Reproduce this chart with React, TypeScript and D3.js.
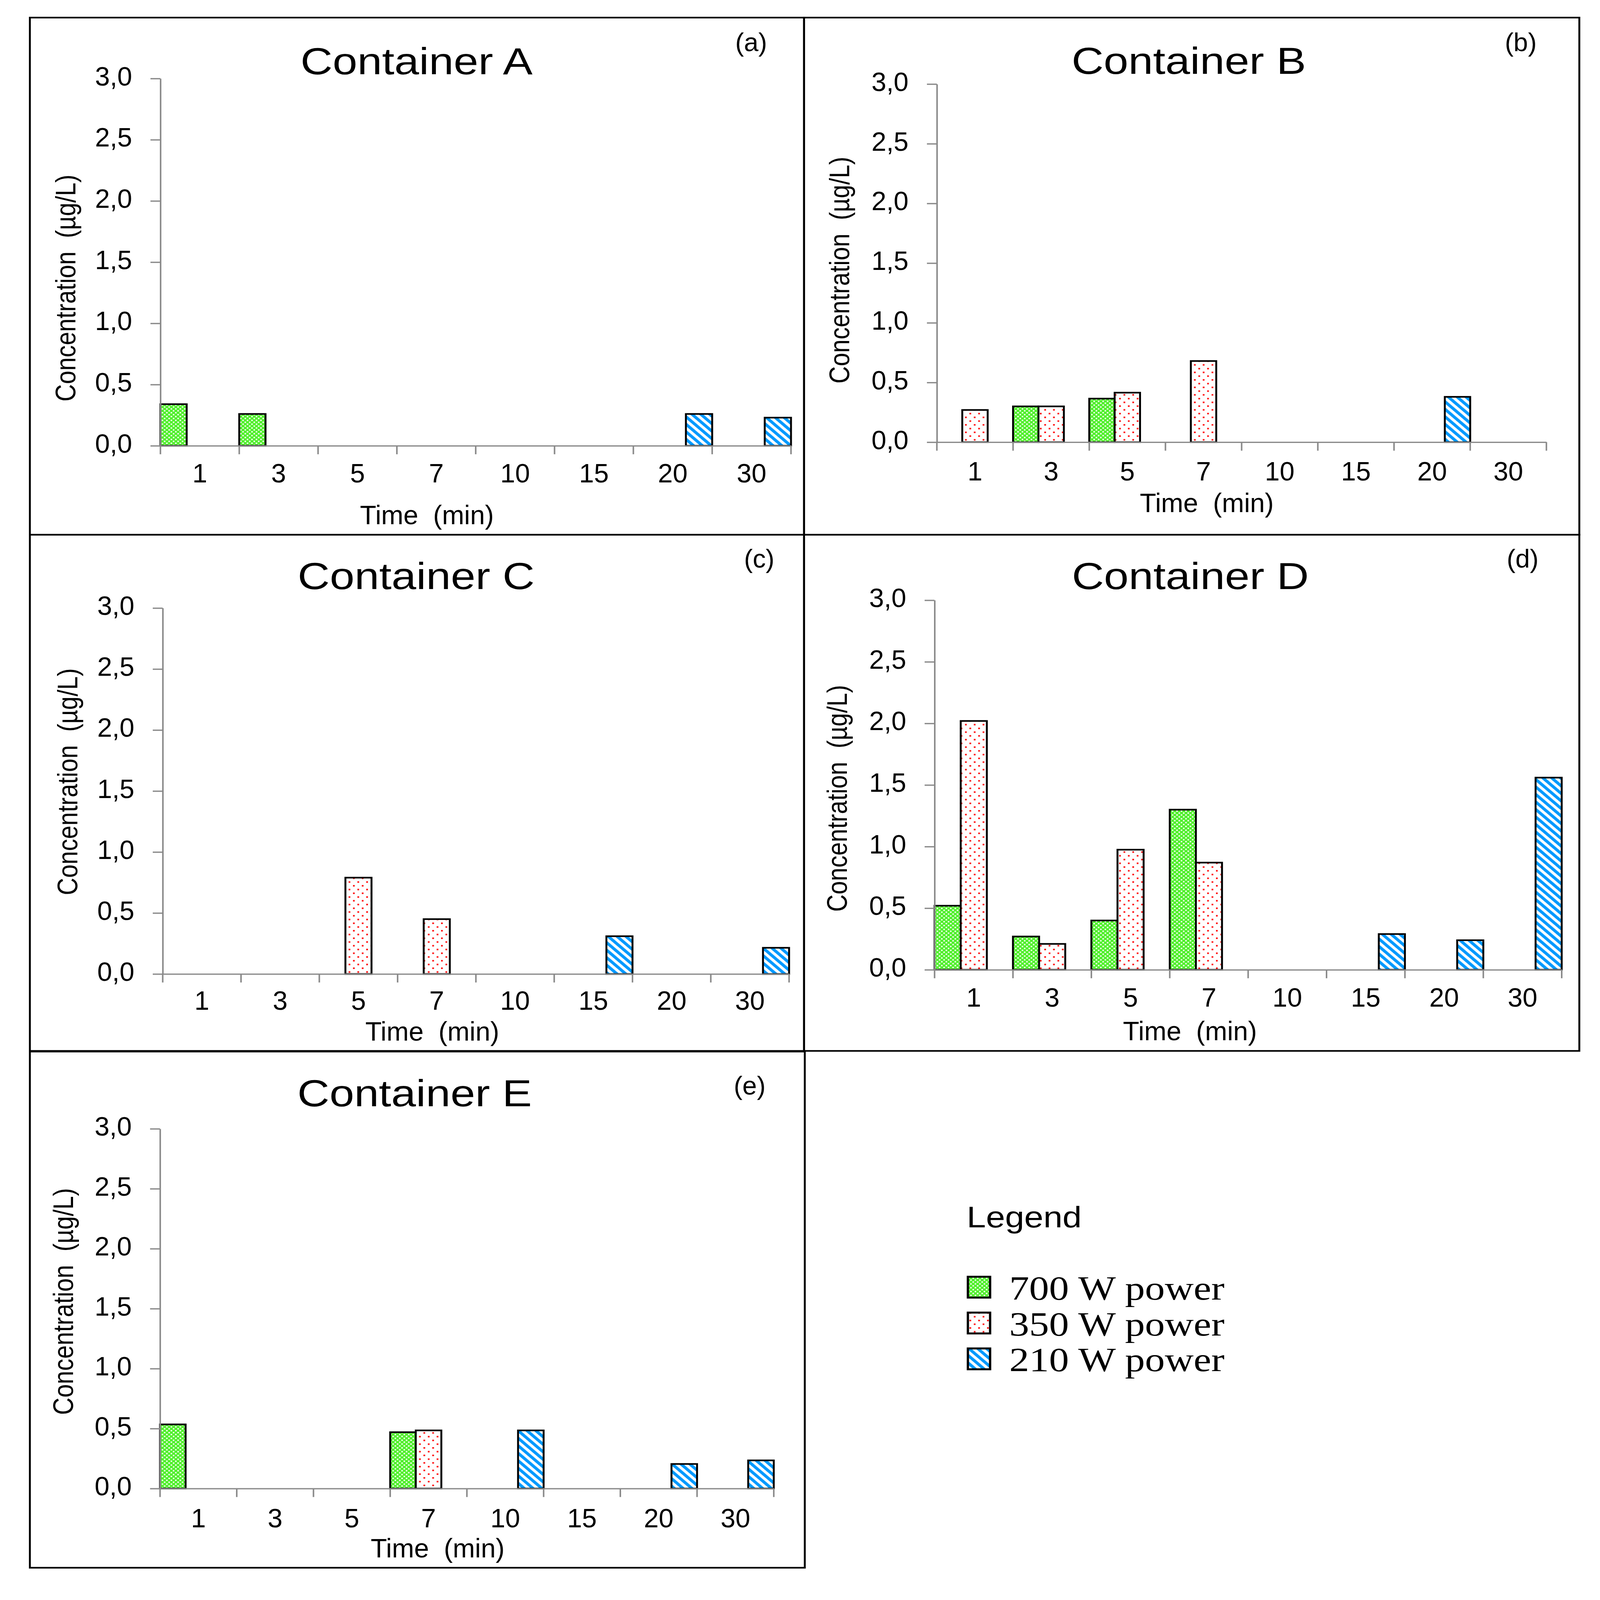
import { useEffect, useRef } from 'react';
import * as d3 from 'd3';

// Categories (time in minutes) and series
const categories = ['1', '3', '5', '7', '10', '15', '20', '30'];
const seriesNames = ['700 W power', '350 W power', '210 W power'];
const yTicks = [0, 0.5, 1, 1.5, 2, 2.5, 3];

// Concentration (µg/L) per container, 0 = no bar
const containerA700 = [0.34, 0.26, 0, 0, 0, 0, 0, 0];
const containerA350 = [0, 0, 0, 0, 0, 0, 0, 0];
const containerA210 = [0, 0, 0, 0, 0, 0, 0.26, 0.23];

const containerB700 = [0, 0.30, 0.365, 0, 0, 0, 0, 0];
const containerB350 = [0.27, 0.30, 0.415, 0.68, 0, 0, 0, 0];
const containerB210 = [0, 0, 0, 0, 0, 0, 0.38, 0];

const containerC700 = [0, 0, 0, 0, 0, 0, 0, 0];
const containerC350 = [0, 0, 0.79, 0.45, 0, 0, 0, 0];
const containerC210 = [0, 0, 0, 0, 0, 0.31, 0, 0.215];

const containerD700 = [0.52, 0.27, 0.40, 1.30, 0, 0, 0, 0];
const containerD350 = [2.02, 0.21, 0.975, 0.87, 0, 0, 0, 0];
const containerD210 = [0, 0, 0, 0, 0, 0.29, 0.24, 1.56];

const containerE700 = [0.535, 0, 0, 0.47, 0, 0, 0, 0];
const containerE350 = [0, 0, 0, 0.485, 0, 0, 0, 0];
const containerE210 = [0, 0, 0, 0, 0.485, 0, 0.205, 0.235];

const W = 4179;
const H = 4910;
const SANS = "'Liberation Sans', Arial, sans-serif";
const SERIF = "'Liberation Serif', 'Times New Roman', serif";
const AXIS_GREY = '#8a8a8a';
// Arial Narrow look-alike: regular sans squeezed horizontally
const NARROW_SCALE = 0.85;

interface PanelLayout {
  bx: number; by: number; bw: number; bh: number;
  x0: number; x1: number; yBase: number; yTop: number;
  titleX: number; titleY: number; tagX: number; tagY: number;
  yLabX: number; yLabY: number; xLabY: number; timeX: number; timeY: number;
}

interface Panel {
  title: string;
  tag: string;
  series: number[][];
  layout: PanelLayout;
}

const panels: Panel[] = [
  {
    title: 'Container A', tag: '(a)', series: [containerA700, containerA350, containerA210],
    layout: { bx: 78, by: 54, bw: 2022, bh: 1587, x0: 419, x1: 2066, yBase: 1368, yTop: 241,
      titleX: 1088, titleY: 228, tagX: 1962, tagY: 157, yLabX: 197, yLabY: 884, xLabY: 1480, timeX: 1115, timeY: 1609 },
  },
  {
    title: 'Container B', tag: '(b)', series: [containerB700, containerB350, containerB210],
    layout: { bx: 2100, by: 54, bw: 2025, bh: 1587, x0: 2447, x1: 4039, yBase: 1357, yTop: 258,
      titleX: 3105, titleY: 226, tagX: 3972, tagY: 157, yLabX: 2218, yLabY: 829, xLabY: 1474, timeX: 3152, timeY: 1572 },
  },
  {
    title: 'Container C', tag: '(c)', series: [containerC700, containerC350, containerC210],
    layout: { bx: 78, by: 1641, bw: 2022, bh: 1584, x0: 425, x1: 2061, yBase: 2989, yTop: 1866,
      titleX: 1087, titleY: 1808, tagX: 1983, tagY: 1742, yLabX: 202, yLabY: 2399, xLabY: 3099, timeX: 1129, timeY: 3194 },
  },
  {
    title: 'Container D', tag: '(d)', series: [containerD700, containerD350, containerD210],
    layout: { bx: 2100, by: 1641, bw: 2025, bh: 1584, x0: 2441, x1: 4079, yBase: 2976, yTop: 1842,
      titleX: 3109, titleY: 1808, tagX: 3977, tagY: 1742, yLabX: 2212, yLabY: 2450, xLabY: 3089, timeX: 3108, timeY: 3192 },
  },
  {
    title: 'Container E', tag: '(e)', series: [containerE700, containerE350, containerE210],
    layout: { bx: 78, by: 3227, bw: 2024, bh: 1584, x0: 418, x1: 2021, yBase: 4568, yTop: 3464,
      titleX: 1083, titleY: 3395, tagX: 1958, tagY: 3359, yLabX: 191, yLabY: 3994, xLabY: 4687, timeX: 1143, timeY: 4779 },
  },
];

const patternIds = ['pat700', 'pat350', 'pat210'];

export default function App() {
  const svgRef = useRef<SVGSVGElement>(null);

  useEffect(() => {
    if (!svgRef.current) return;
    const svg = d3.select(svgRef.current);
    svg.selectAll('*').remove();

    svg.append('rect').attr('width', W).attr('height', H).attr('fill', '#fff');

    // Fill patterns (Excel-like)
    const defs = svg.append('defs');
    const pGreen = defs.append('pattern').attr('id', patternIds[0])
      .attr('patternUnits', 'userSpaceOnUse').attr('width', 11.7).attr('height', 11.7);
    pGreen.append('rect').attr('width', 11.7).attr('height', 11.7).attr('fill', '#52ef2e');
    pGreen.append('rect').attr('x', 1).attr('y', 1).attr('width', 4).attr('height', 4).attr('fill', '#fff');
    pGreen.append('rect').attr('x', 6.85).attr('y', 6.85).attr('width', 4).attr('height', 4).attr('fill', '#fff');

    const pRed = defs.append('pattern').attr('id', patternIds[1])
      .attr('patternUnits', 'userSpaceOnUse').attr('width', 23).attr('height', 23);
    pRed.append('rect').attr('width', 23).attr('height', 23).attr('fill', '#fff');
    pRed.append('rect').attr('x', 2).attr('y', 2).attr('width', 4.5).attr('height', 4.5).attr('fill', '#ff0000');
    pRed.append('rect').attr('x', 13.5).attr('y', 13.5).attr('width', 4.5).attr('height', 4.5).attr('fill', '#ff0000');

    const pBlue = defs.append('pattern').attr('id', patternIds[2])
      .attr('patternUnits', 'userSpaceOnUse').attr('width', 16.3).attr('height', 16.3)
      .attr('patternTransform', 'rotate(-45)');
    pBlue.append('rect').attr('width', 16.3).attr('height', 16.3).attr('fill', '#fff');
    pBlue.append('rect').attr('width', 8.4).attr('height', 16.3).attr('fill', '#0099ff');

    panels.forEach(panel => {
      const L = panel.layout;
      const g = svg.append('g');

      // Panel frame
      g.append('rect')
        .attr('x', L.bx).attr('y', L.by).attr('width', L.bw).attr('height', L.bh)
        .attr('fill', 'none').attr('stroke', '#000').attr('stroke-width', 5);

      const x = d3.scaleBand<string>().domain(categories).range([L.x0, L.x1]).padding(0);
      const xSub = d3.scaleBand<number>().domain([0, 1, 2]).range([0, x.bandwidth()]).padding(0);
      const y = d3.scaleLinear().domain([0, 3]).range([L.yBase, L.yTop]);

      // Bars
      panel.series.forEach((values, s) => {
        g.selectAll(`.bar-${s}`)
          .data(values.map((v, i) => ({ v, c: categories[i] })).filter(d => d.v > 0))
          .enter()
          .append('rect')
          .attr('class', `bar-${s}`)
          .attr('x', d => (x(d.c) || 0) + (xSub(s) || 0))
          .attr('y', d => y(d.v))
          .attr('width', xSub.bandwidth())
          .attr('height', d => y(0) - y(d.v))
          .attr('fill', `url(#${patternIds[s]})`)
          .attr('stroke', '#000')
          .attr('stroke-width', 5);
      });

      // Y axis
      const yAxis = g.append('g')
        .attr('transform', `translate(${L.x0},0)`)
        .call(d3.axisLeft(y).tickValues(yTicks).tickSize(26).tickSizeOuter(0)
          .tickFormat(d => (d as number).toFixed(1).replace('.', ',')));
      yAxis.select('.domain').attr('stroke', AXIS_GREY).attr('stroke-width', 4);
      yAxis.selectAll('.tick line').attr('stroke', AXIS_GREY).attr('stroke-width', 4);
      yAxis.selectAll('.tick text')
        .attr('x', 0)
        .attr('dy', '0.25em')
        .attr('transform', `translate(-74,0) scale(${NARROW_SCALE},1)`)
        .style('font-family', SANS)
        .style('font-size', '82px')
        .attr('fill', '#000');

      // X axis (labels centred, ticks on band boundaries)
      const xAxis = g.append('g')
        .attr('transform', `translate(0,${L.yBase})`)
        .call(d3.axisBottom(x).tickSize(0).tickSizeOuter(0));
      xAxis.select('.domain').attr('stroke', AXIS_GREY).attr('stroke-width', 4);
      xAxis.selectAll('.tick text')
        .attr('y', 0)
        .attr('dy', null)
        .attr('transform', `translate(0,${L.xLabY - L.yBase}) scale(${NARROW_SCALE},1)`)
        .style('font-family', SANS)
        .style('font-size', '82px')
        .attr('fill', '#000');
      xAxis.selectAll('.boundary')
        .data(d3.range(categories.length + 1))
        .enter()
        .append('line')
        .attr('class', 'boundary')
        .attr('x1', i => L.x0 + i * x.step())
        .attr('x2', i => L.x0 + i * x.step())
        .attr('y1', 0)
        .attr('y2', 26)
        .attr('stroke', AXIS_GREY)
        .attr('stroke-width', 4);

      // Titles and labels
      g.append('text')
        .attr('x', L.titleX).attr('y', L.titleY)
        .attr('text-anchor', 'middle')
        .style('font-family', SANS).style('font-size', '116px')
        .text(panel.title);

      g.append('text')
        .attr('transform', `translate(${L.tagX},${L.tagY}) scale(${NARROW_SCALE},1)`)
        .attr('text-anchor', 'middle')
        .style('font-family', SANS).style('font-size', '80px')
        .text(panel.tag);

      g.append('text')
        .attr('transform', `translate(${L.yLabX},${L.yLabY}) rotate(-90)`)
        .attr('text-anchor', 'middle')
        .style('font-family', SANS).style('font-size', '74px')
        .style('white-space', 'pre')
        .text('Concentration  (µg/L)');

      g.append('text')
        .attr('transform', `translate(${L.timeX},${L.timeY}) scale(${NARROW_SCALE},1)`)
        .attr('text-anchor', 'middle')
        .style('font-family', SANS).style('font-size', '82px')
        .style('white-space', 'pre')
        .text('Time  (min)');
    });

    // Legend
    const legend = svg.append('g');
    legend.append('text')
      .attr('x', 2525).attr('y', 3767)
      .style('font-family', SANS).style('font-size', '90px')
      .text('Legend');

    const legendY = d3.scaleBand<string>().domain(seriesNames).range([3918, 4248]).padding(0);
    legend.selectAll('.swatch')
      .data(seriesNames)
      .enter()
      .append('rect')
      .attr('class', 'swatch')
      .attr('x', 2528)
      .attr('y', d => (legendY(d) || 0))
      .attr('width', 58)
      .attr('height', 64)
      .attr('fill', (_d, i) => `url(#${patternIds[i]})`)
      .attr('stroke', '#000')
      .attr('stroke-width', 6);

    legend.selectAll('.legend-label')
      .data(seriesNames)
      .enter()
      .append('text')
      .attr('class', 'legend-label')
      .attr('x', 2636)
      .attr('y', d => (legendY(d) || 0) + 70)
      .style('font-family', SERIF)
      .style('font-size', '104px')
      .text(d => d);
  }, []);

  // The drawing is laid out on a 4179 x 4910 grid and stretched to fill the viewport
  return (
    <>
      <style>{'html, body { margin: 0; padding: 0; overflow: hidden; }'}</style>
      <svg
        ref={svgRef}
        viewBox={`0 0 ${W} ${H}`}
        preserveAspectRatio="none"
        style={{ display: 'block', width: '100vw', height: '100vh' }}
      />
    </>
  );
}
